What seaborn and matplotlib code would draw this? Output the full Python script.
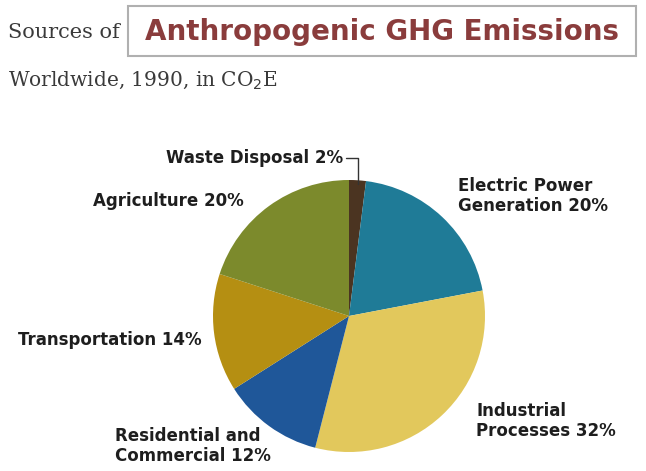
import matplotlib
matplotlib.use("Agg")
import matplotlib.pyplot as plt
import seaborn as sns
from matplotlib.patches import Rectangle

sns.set_style("white")

# slices, clockwise from 12 o'clock
sources = ["Waste Disposal", "Electric Power Generation", "Industrial Processes",
           "Residential and Commercial", "Transportation", "Agriculture"]
shares = [2, 20, 32, 12, 14, 20]
colors = ["#4b3421", "#1f7b97", "#e2c85c", "#1f5799", "#b58f12", "#7c8a2c"]

W, H = 646, 471
fig = plt.figure(figsize=(W / 100, H / 100), dpi=100)
fig.patch.set_facecolor("white")

def fx(x):
    return x / W

def fy(y):
    return 1 - y / H

# pie: centre ~ (349, 316), radius ~ 136 px
cx, cy, r = 349, 316, 136
ax = fig.add_axes([fx(cx - r), fy(cy + r), 2 * r / W, 2 * r / H])
ax.pie(shares, colors=colors, startangle=90, counterclock=False,
       wedgeprops=dict(linewidth=0))
ax.set_xlim(-1, 1)
ax.set_ylim(-1, 1)
ax.set_aspect("auto")
ax.axis("off")

# title
fig.text(fx(8), fy(33), "Sources of", fontsize=15, family="DejaVu Serif",
         color="#3a3a3a", va="center", ha="left")
fig.add_artist(Rectangle((fx(128), fy(56)), fx(508), 50 / H, transform=fig.transFigure,
                         facecolor="white", edgecolor="#b0b0b0", linewidth=1.5))
fig.text(fx(382), fy(32), "Anthropogenic GHG Emissions", fontsize=20, fontweight="bold",
         color="#8a3c3c", va="center", ha="center", family="DejaVu Sans")
fig.text(fx(8), fy(80), "Worldwide, 1990, in CO$_2$E", fontsize=14.5, family="DejaVu Serif",
         color="#3a3a3a", va="center", ha="left")

lab = dict(fontsize=12, fontweight="bold", color="#1e1e1e", family="DejaVu Sans",
           linespacing=1.2)
fig.text(fx(343), fy(158), "Waste Disposal 2%", ha="right", va="center", **lab)
fig.add_artist(plt.Line2D([fx(346), fx(358), fx(358)], [fy(158), fy(158), fy(184)],
                          transform=fig.transFigure, color="#333333", linewidth=1))
fig.text(fx(93), fy(201), "Agriculture 20%", ha="left", va="center", **lab)
fig.text(fx(458), fy(196), "Electric Power\nGeneration 20%", ha="left", va="center", **lab)
fig.text(fx(18), fy(340), "Transportation 14%", ha="left", va="center", **lab)
fig.text(fx(476), fy(421), "Industrial\nProcesses 32%", ha="left", va="center", **lab)
fig.text(fx(115), fy(446), "Residential and\nCommercial 12%", ha="left", va="center", **lab)

fig.savefig("out.png", dpi=100, facecolor="white")
